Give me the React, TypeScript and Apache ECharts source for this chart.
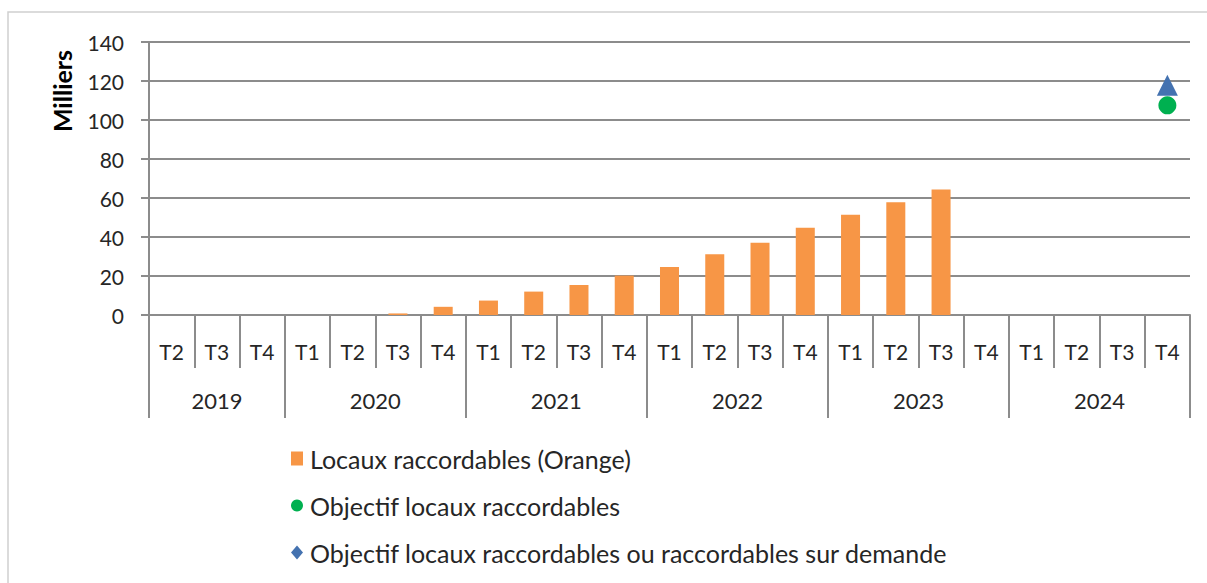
import React, { useEffect, useRef } from "react";
import * as echarts from "echarts";

const quarters = [
  "2019-T2", "2019-T3", "2019-T4",
  "2020-T1", "2020-T2", "2020-T3", "2020-T4",
  "2021-T1", "2021-T2", "2021-T3", "2021-T4",
  "2022-T1", "2022-T2", "2022-T3", "2022-T4",
  "2023-T1", "2023-T2", "2023-T3", "2023-T4",
  "2024-T1", "2024-T2", "2024-T3", "2024-T4",
];
const years = ["2019", "2020", "2021", "2022", "2023", "2024"];
const yearBoundaries = [0, 3, 7, 11, 15, 19, 23];
const yearCenters = [1.5, 5, 9, 13, 17, 21];

const locauxOrange = [
  null, null, null,
  null, null, 0.8, 4.2,
  7.4, 12, 15.4, 20.2,
  24.6, 31.1, 37.1, 44.7,
  51.4, 57.8, 64.4, null,
  null, null, null, null,
];
const objectifCategory = "2024-T4";
const objectifLocaux = 107.5;
const objectifDemande = 117.8;

const seriesNames = [
  "Locaux raccordables (Orange)",
  "Objectif locaux raccordables",
  "Objectif locaux raccordables ou raccordables sur demande",
];

const FONT = "Lato, 'Open Sans', sans-serif";
const TXT = "#262626";
const AXIS = "#8C8C8C";

export default function App() {
  const ref = useRef<HTMLDivElement>(null);
  useEffect(() => {
    if (!ref.current) return;
    const chart = echarts.init(ref.current, undefined, { renderer: "svg" });
    chart.setOption({
      animation: false,
      backgroundColor: "#fff",
      textStyle: { fontFamily: FONT, color: TXT },
      grid: { left: 149, right: 17, top: 42, bottom: 268, containLabel: false },
      legend: {
        orient: "vertical",
        left: 286,
        top: 441,
        height: 200,
        itemWidth: 12,
        itemHeight: 14,
        itemGap: 22,
        textStyle: { fontFamily: FONT, fontSize: 25, color: TXT, padding: [0, 0, 0, 2] },
        data: [
          { name: seriesNames[0], icon: "rect" },
          { name: seriesNames[1], icon: "circle" },
          { name: seriesNames[2], icon: "diamond" },
        ],
      },
      graphic: [
        {
          type: "rect",
          shape: { x: 8, y: 12, width: 1220, height: 600 },
          style: { fill: "none", stroke: "#D0D0D0", lineWidth: 1.5 },
          silent: true,
        },
        {
          type: "text",
          x: 62,
          y: 91,
          rotation: Math.PI / 2,
          style: {
            text: "Milliers",
            font: `bold 25px ${FONT}`,
            fill: "#000",
            align: "center",
            verticalAlign: "middle",
          },
        },
      ],
      xAxis: [
        {
          type: "category",
          data: quarters,
          boundaryGap: true,
          position: "bottom",
          axisLine: { show: true, lineStyle: { color: AXIS, width: 2 } },
          axisTick: { show: true, length: 53, lineStyle: { color: AXIS, width: 2 } },
          axisLabel: {
            margin: 26,
            fontSize: 21,
            color: TXT,
            fontFamily: FONT,
            interval: 0,
            formatter: (v: string) => v.split("-")[1],
          },
          splitLine: { show: false },
        },
        {
          type: "value",
          min: 0,
          max: 23,
          position: "bottom",
          axisLine: { show: false },
          axisTick: {
            show: true,
            length: 103,
            customValues: yearBoundaries,
            lineStyle: { color: AXIS, width: 2 },
          },
          axisLabel: {
            margin: 74,
            fontSize: 22,
            color: TXT,
            fontFamily: FONT,
            customValues: yearCenters,
            formatter: (v: number) => years[yearCenters.indexOf(v)] ?? "",
          },
          splitLine: { show: false },
        },
      ],
      yAxis: {
        type: "value",
        min: 0,
        max: 140,
        interval: 20,
        axisLine: { show: true, lineStyle: { color: AXIS, width: 2 } },
        axisTick: { show: true, length: 8, lineStyle: { color: AXIS, width: 2 } },
        axisLabel: { margin: 25, fontSize: 21, color: TXT, fontFamily: FONT },
        splitLine: { show: true, lineStyle: { color: AXIS, width: 2 } },
      },
      series: [
        {
          name: seriesNames[0],
          type: "bar",
          xAxisIndex: 0,
          data: locauxOrange,
          barWidth: "42%",
          itemStyle: { color: "#F79646", opacity: 1 },
        },
        {
          name: seriesNames[1],
          type: "scatter",
          xAxisIndex: 0,
          symbol: "circle",
          symbolSize: 18,
          data: [[objectifCategory, objectifLocaux]],
          itemStyle: { color: "#00B050", opacity: 1 },
        },
        {
          name: seriesNames[2],
          type: "scatter",
          xAxisIndex: 0,
          symbol: "triangle",
          symbolSize: 21,
          data: [[objectifCategory, objectifDemande]],
          itemStyle: { color: "#4472B0", opacity: 1 },
        },
      ],
    });
    return () => chart.dispose();
  }, []);
  return (
    <div
      ref={ref}
      style={{ position: "fixed", left: 0, top: 0, width: 1207, height: 583 }}
    />
  );
}
